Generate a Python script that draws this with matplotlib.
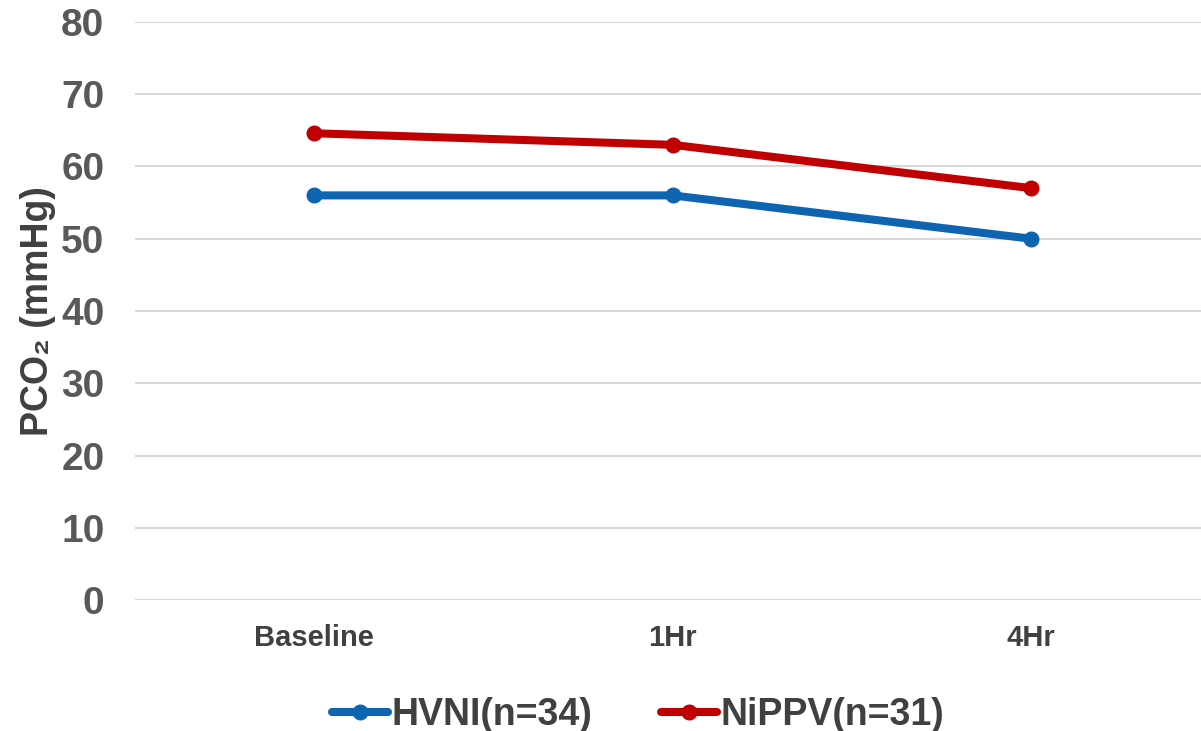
import matplotlib.pyplot as plt

plt.rcParams['font.family'] = ['Liberation Sans', 'DejaVu Sans']
plt.rcParams['font.weight'] = 'bold'

# PCO2 over time for the two groups
timepoints = ['Baseline', '1Hr', '4Hr']
hvni = [56.0, 56.0, 50.0]
nippv = [64.6, 63.0, 57.0]
yticks = [0, 10, 20, 30, 40, 50, 60, 70, 80]

TICK = '#595959'
TEXT = '#404040'

fig = plt.figure(figsize=(12.01, 7.31), dpi=100)
ax = fig.add_axes([135/1201, 1 - 600/731, 1066/1201, 578/731])

x = range(len(timepoints))
ax.plot(x, hvni, color='#0e64b0', lw=5.8, marker='o', ms=10.5,
        solid_capstyle='round', label='HVNI(n=34)', zorder=3)
ax.plot(x, nippv, color='#c00000', lw=5.8, marker='o', ms=10.5,
        solid_capstyle='round', label='NiPPV(n=31)', zorder=3)

ax.set_ylim(0, 80)
ax.set_yticks(yticks)
ax.set_xlim(-0.5, -0.5 + 1066/358.5)
ax.set_xticks(list(x))
ax.set_xticklabels(timepoints, fontsize=21, color=TEXT, fontweight='bold')
ax.tick_params(axis='y', labelsize=28, labelcolor=TICK, length=0, pad=22)
ax.tick_params(axis='x', length=0, pad=17)
for lab in ax.get_yticklabels():
    lab.set_fontweight('bold')

ax.grid(axis='y', color='#d9d9d9', lw=1.5)
ax.set_axisbelow(True)
for s in ax.spines.values():
    s.set_visible(False)

ax.set_ylabel('PCO\u2082 (mmHg)', fontsize=27, color=TEXT, fontweight='bold', labelpad=4)

handles, labels = ax.get_legend_handles_labels()
leg = fig.legend(handles, labels, loc='center',
                 bbox_to_anchor=(638/1201, 1 - 715/731),
                 ncol=2, frameon=False, fontsize=27, handlelength=1.5,
                 columnspacing=1.84, handletextpad=0.08,
                 borderpad=0, borderaxespad=0)
for t in leg.get_texts():
    t.set_color(TEXT)
    t.set_fontweight('bold')

fig.savefig('out.png', dpi=100)
